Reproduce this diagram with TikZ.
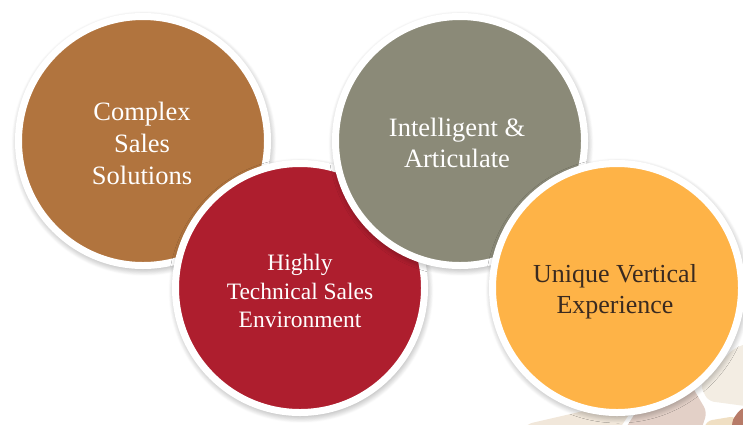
\documentclass[tikz,border=0pt]{standalone}
\usepackage{fontspec}
\setmainfont{Liberation Serif}
\usetikzlibrary{shadows.blur}
\definecolor{brownc}{HTML}{B1743E}
\definecolor{redc}{HTML}{AE1E2E}
\definecolor{grayc}{HTML}{8B8A78}
\definecolor{yellowc}{HTML}{FEB347}
\definecolor{darktext}{HTML}{3A2A20}
\definecolor{tilepale}{HTML}{F3EDE3}
\definecolor{tilepink}{HTML}{E3D0C7}
\definecolor{tilebeige}{HTML}{F1E7DA}
\definecolor{tilebrown}{HTML}{B77B68}
\definecolor{tiletan}{HTML}{F0DFC3}
\tikzset{
  bubble/.style={circle, draw=white, line width=7pt, minimum size=249pt, inner sep=0pt,
    blur shadow={shadow xshift=1pt, shadow yshift=-2.5pt, shadow blur radius=8pt, shadow opacity=50, shadow blur steps=10}},
  lbl/.style={align=center, inner sep=0pt},
  tile/.style={rounded corners=6pt}
}
\begin{document}
\begin{tikzpicture}[x=1pt,y=-1pt]
\useasboundingbox (0,0) rectangle (743,424);
\begin{scope}
\clip (0,0) rectangle (743,424);
\fill[tile, tilebeige] (515,440) -- (527,424) -- (640,398) -- (612,440) -- cycle;
\fill[tile, tilepink] (618,440) -- (650,390) -- (686,376) -- (707,412) -- (698,440) -- cycle;
\fill[tile, tilepale] (700,385) -- (733,349) -- (760,338) -- (760,408) -- (708,401) -- cycle;
\fill[tile, tiletan] (706,421) -- (736,416) -- (740,440) -- (702,440) -- cycle;
\fill[tile, tilebrown] (731,422) -- (741,408) -- (760,404) -- (760,440) -- (735,440) -- cycle;
\end{scope}
\node[bubble, fill=brownc] (c1) at (143,141) {};
\node[lbl, text=white, font=\fontsize{26.5}{32}\selectfont] (t1) at (142,143) {Complex\\Sales\\Solutions};
\node[bubble, fill=redc] (c2) at (300,288) {};
\node[lbl, text=white, font=\fontsize{23.5}{28.5}\selectfont] (t2) at (300,291) {Highly\\Technical Sales\\Environment};
\node[bubble, fill=grayc] (c3) at (460,141) {};
\node[lbl, text=white, font=\fontsize{26.5}{31}\selectfont] (t3) at (457,143) {Intelligent \&\\Articulate};
\node[bubble, fill=yellowc] (c4) at (617,288) {};
\node[lbl, text=darktext, font=\fontsize{26}{31}\selectfont] (t4) at (615,292) {Unique Vertical\\Experience};
\end{tikzpicture}
\end{document}
